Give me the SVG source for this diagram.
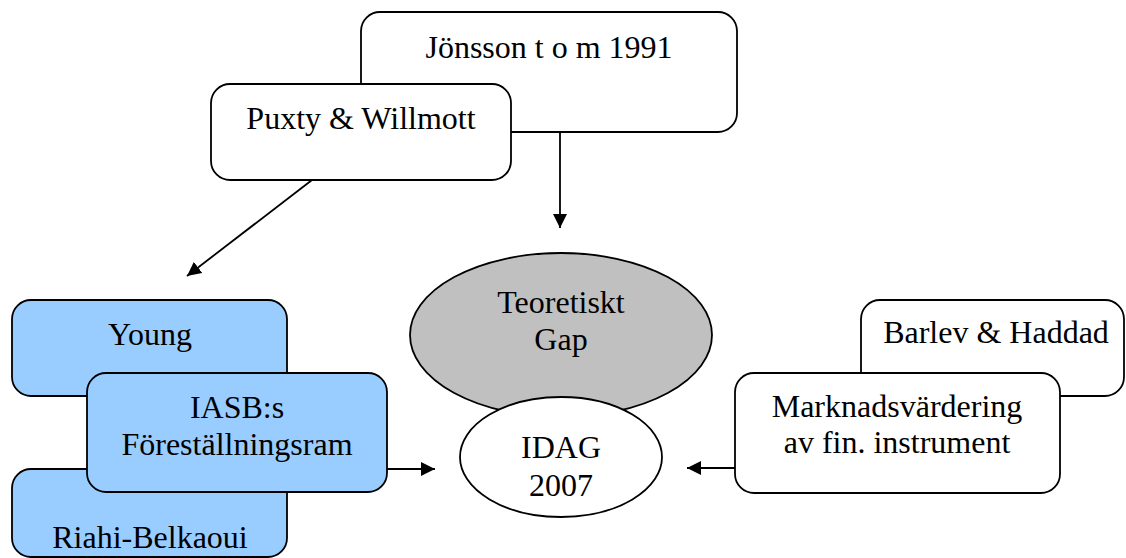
<svg xmlns="http://www.w3.org/2000/svg" width="1126" height="558" viewBox="0 0 1126 558">
<style>
.box{fill:#ffffff;stroke:#000000;stroke-width:1.8}
.blue{fill:#99ccff;stroke:#000000;stroke-width:1.8}
.ell{stroke:#000000;stroke-width:1.8}
.conn{stroke:#000000;stroke-width:1.8;fill:none;marker-end:url(#arr)}
text{font-family:"Liberation Serif","Times New Roman",serif;font-size:32px;fill:#000000;text-anchor:middle}
</style>
<defs>
<marker id="arr" markerUnits="userSpaceOnUse" markerWidth="16" markerHeight="14" refX="14" refY="7" orient="auto">
<path d="M0,0 L14,7 L0,14 Z" fill="#000000"/>
</marker>
</defs>
<rect width="1126" height="558" fill="#ffffff"/>
<g id="connectors">
<line class="conn" x1="560" y1="132" x2="560" y2="228"/>
<line class="conn" x1="312" y1="180" x2="187" y2="276"/>
<line class="conn" x1="387" y1="469" x2="435" y2="469"/>
<line class="conn" x1="735" y1="468" x2="687" y2="468"/>
</g>
<g id="jonsson">
<rect class="box" x="361" y="12" width="376" height="120" rx="19"/>
<text x="549" y="58">Jönsson t o m 1991</text>
</g>
<g id="puxty">
<rect class="box" x="211" y="84" width="300" height="96" rx="19"/>
<text x="361" y="129">Puxty &amp; Willmott</text>
</g>
<g id="young">
<rect class="blue" x="12" y="300" width="275" height="96" rx="19"/>
<text x="150" y="345">Young</text>
</g>
<g id="riahi">
<rect class="blue" x="12" y="469" width="275" height="88" rx="19"/>
<text x="150" y="548">Riahi-Belkaoui</text>
</g>
<g id="iasb">
<rect class="blue" x="87" y="373" width="300" height="119" rx="19"/>
<text x="237" y="418">IASB:s</text>
<text x="237" y="455">Föreställningsram</text>
</g>
<g id="gap">
<ellipse class="ell" cx="561" cy="335" rx="151" ry="82" fill="#c0c0c0"/>
<text x="561" y="313">Teoretiskt</text>
<text x="561" y="350">Gap</text>
</g>
<g id="idag">
<ellipse class="ell" cx="561" cy="457" rx="101" ry="60" fill="#ffffff"/>
<text x="561" y="458">IDAG</text>
<text x="561" y="496">2007</text>
</g>
<g id="barlev">
<rect class="box" x="861" y="300" width="263" height="96" rx="19"/>
<text x="996" y="343">Barlev &amp; Haddad</text>
</g>
<g id="marknad">
<rect class="box" x="735" y="373" width="325" height="120" rx="19"/>
<text x="897" y="417">Marknadsvärdering</text>
<text x="897" y="453">av fin. instrument</text>
</g>
</svg>
